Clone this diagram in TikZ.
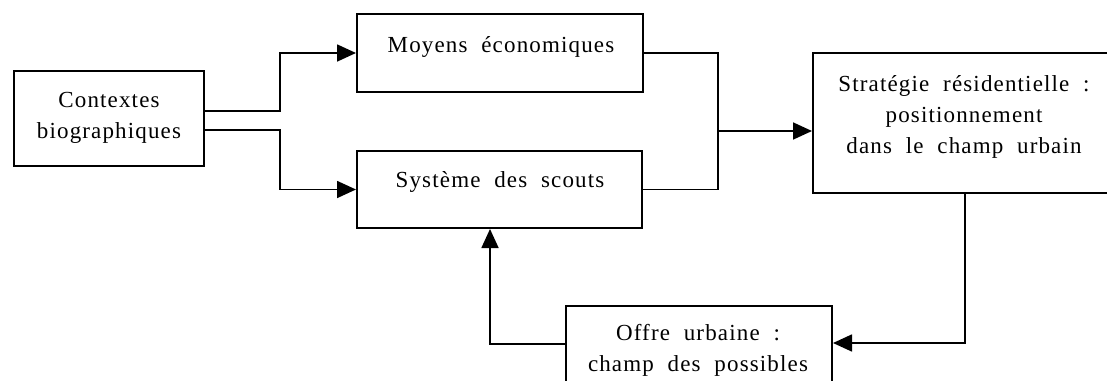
\documentclass[tikz,border=0pt]{standalone}
\usepackage{fontspec}
\setmainfont{Liberation Serif}[LetterSpace=5,WordSpace=2]
\usetikzlibrary{arrows.meta}
\tikzset{
  box/.style={draw, line width=2pt, inner sep=0pt},
  lbl/.style={align=center, inner sep=0pt, font=\fontsize{23}{31}\selectfont},
  conn/.style={line width=1.7pt, -{Triangle[length=19pt,width=17pt]}},
  plain/.style={line width=1.7pt}
}
\begin{document}
\begin{tikzpicture}[x=1pt,y=-1pt]
\useasboundingbox (0,0) rectangle (1107,380);
\clip (0,0) rectangle (1107,380);
% boxes
\node[box, minimum width=190pt, minimum height=95pt] (ctx) at (109,118.5) {};
\node[box, minimum width=286pt, minimum height=78pt] (moy) at (500,53) {};
\node[box, minimum width=285pt, minimum height=77pt] (sys) at (499.5,189.5) {};
\node[box, minimum width=307pt, minimum height=140pt] (str) at (966.5,123) {};
\node[box, minimum width=266pt, minimum height=94pt] (off) at (699,353) {};
% texts
\node[lbl] (ctxT) at (109,118) {Contextes\\biographiques};
\node[lbl, anchor=base] (moyT) at (501,52) {Moyens économiques};
\node[lbl, anchor=base] (sysT) at (500,187) {Système des scouts};
\node[lbl] (strT) at (964,116.5) {Stratégie résidentielle :\\positionnement\\dans le champ urbain};
\node[lbl] (offT) at (698,350.5) {Offre urbaine :\\champ des possibles};
% junctions
\coordinate (a1) at (280,111);
\coordinate (a2) at (280,130);
\coordinate (m1) at (718,131);
\coordinate (s1) at (965,343);
\coordinate (b1) at (490,344);
% connectors
\draw[conn] (ctx.east |- a1) -- (a1) |- (moy.west);
\draw[conn] (ctx.east |- a2) -- (a2) |- (sys.west);
\draw[plain] (moy.east) -| (m1);
\draw[plain] (sys.east) -| (m1);
\draw[conn] (m1) -- (m1 -| str.west);
\draw[conn] (str.south -| s1) -- (s1) -- (s1 -| off.east);
\draw[conn] (off.west |- b1) -| (sys.south -| b1);
\end{tikzpicture}
\end{document}
